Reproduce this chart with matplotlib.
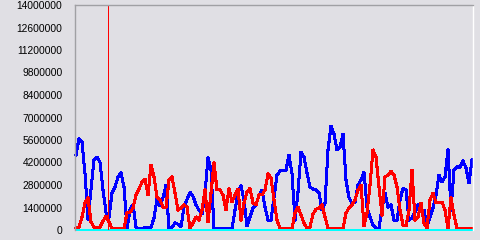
import matplotlib
matplotlib.use("Agg")
import matplotlib.pyplot as plt
import numpy as np

# values in millions, one sample per time step
blue_m = [4.67, 5.7, 5.48, 3.5, 0.68, 2.5, 4.36, 4.54, 4.2, 2.49,
          1.1, 0.8, 2.3, 2.68, 3.3, 3.55, 2.68, 0.1, 1.24, 1.6,
          0.15, 0.1, 0.1, 0.15, 0.15, 0.15, 0.75, 1.93, 1.5, 2.0,
          2.8, 0.1, 0.15, 0.45, 0.35, 0.2, 1.43, 1.9, 2.35, 2.1,
          1.56, 1.24, 1.0, 2.3, 4.5, 3.73, 0.1, 0.1, 0.1, 0.1,
          0.1, 0.1, 0.1, 1.24, 2.3, 2.75, 1.87, 0.25, 0.81, 1.37,
          1.56, 2.18, 2.49, 1.43, 0.62, 0.62, 2.0, 3.42, 3.67, 3.73,
          3.73, 4.67, 3.5, 0.62, 2.36, 4.85, 4.54, 3.55, 2.68, 2.55,
          2.49, 2.3, 1.24, 1.68, 4.98, 6.47, 5.97, 4.98, 5.16, 5.97,
          3.11, 2.0, 1.68, 1.74, 2.8, 3.11, 3.6, 1.43, 0.81, 0.31,
          0.1, 0.1, 1.37, 2.3, 1.43, 1.56, 0.62, 0.62, 1.87, 2.6,
          2.49, 0.62, 0.75, 1.1, 1.56, 1.24, 1.24, 0.19, 0.81, 1.37,
          2.18, 3.42, 3.0, 3.3, 4.98, 1.24, 3.73, 3.92, 3.92, 4.3,
          3.86, 2.92, 4.36]

red_m = [0.1, 0.19, 0.81, 1.68, 2.0, 0.5, 0.19, 0.1, 0.19, 0.56,
         0.87, 0.5, 0.1, 0.1, 0.1, 0.1, 0.1, 1.06, 1.1, 1.37,
         2.18, 2.55, 2.98, 3.17, 2.18, 4.04, 3.3, 2.05, 1.87, 1.43,
         1.43, 3.11, 3.3, 2.3, 1.24, 1.37, 1.56, 1.43, 0.1, 0.44,
         0.81, 0.62, 1.24, 2.49, 0.5, 2.3, 4.17, 2.49, 2.49, 2.18,
         1.24, 2.6, 1.74, 2.18, 2.55, 0.62, 1.68, 2.36, 2.6, 1.68,
         1.56, 2.18, 2.18, 2.49, 3.5, 3.24, 1.87, 0.62, 0.1, 0.1,
         0.1, 0.1, 0.1, 1.06, 1.43, 0.93, 0.44, 0.1, 0.19, 1.0,
         1.3, 1.37, 1.56, 0.81, 0.1, 0.1, 0.1, 0.1, 0.1, 0.1,
         1.06, 1.37, 1.56, 1.87, 2.49, 2.8, 0.25, 1.06, 2.8, 4.98,
         4.54, 2.68, 0.93, 3.3, 3.42, 3.67, 3.42, 2.68, 1.24, 0.31,
         0.25, 1.24, 3.73, 0.62, 0.81, 1.68, 0.44, 0.1, 1.87, 2.3,
         1.68, 1.74, 1.74, 1.24, 0.1, 2.0, 0.93, 0.1, 0.1, 0.1,
         0.1, 0.1, 0.1]

marker_index = 10.67
y_ticks = [0, 1400000, 2800000, 4200000, 5600000, 7000000,
           8400000, 9800000, 11200000, 12600000, 14000000]

blue = np.array(blue_m) * 1e6
red = np.array(red_m) * 1e6
n = len(blue)
x = np.arange(n)
cyan = np.zeros(n)

bg = '#E0DFE4'
fig = plt.figure(figsize=(4.8, 2.4), dpi=100, facecolor=bg)
ax = fig.add_axes([75/480, 10/240, 398/480, 225/240], facecolor=bg)

ax.plot(x, blue, color='#0000FF', lw=1.45, antialiased=False, clip_on=False)
ax.plot(x, red, color='#FF0000', lw=1.45, antialiased=False, clip_on=False)
ax.plot(x, cyan, color='#00FFFF', lw=1.2, antialiased=False, clip_on=False)
ax.axvline(marker_index, color='#FF0000', lw=0.6, antialiased=False)

ax.set_xlim(-1/3, n - 1 + 1/3)
ax.set_ylim(0, 14000000)
ax.set_xticks([])
ax.set_yticks(y_ticks)
ax.set_yticklabels([str(v) for v in y_ticks], fontsize=7.4,
                   family='Liberation Sans')
ax.tick_params(axis='y', length=0, pad=9)

ax.spines['left'].set_color('#A0A0A4')
ax.spines['top'].set_color('#A0A0A4')
ax.spines['right'].set_color('#FFFFFF')
ax.spines['bottom'].set_visible(False)
for s in ['left', 'top', 'right']:
    ax.spines[s].set_linewidth(1.0)

fig.savefig('out.png', dpi=100, facecolor=bg)
